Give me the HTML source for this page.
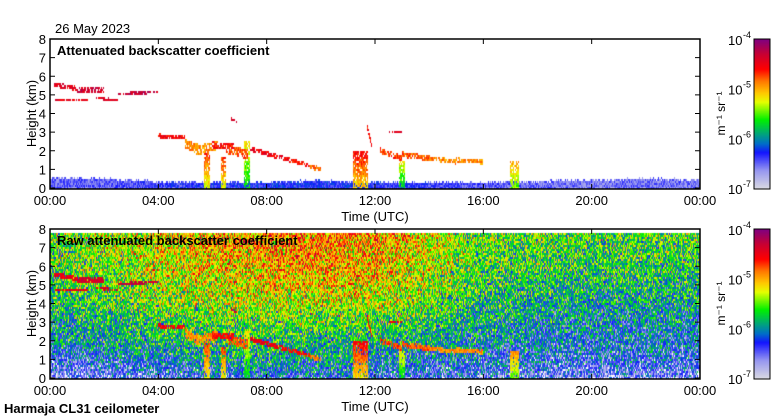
<!DOCTYPE html>
<html><head><meta charset="utf-8">
<style>
html,body{margin:0;padding:0;background:#fff;}
#wrap{position:relative;width:780px;height:420px;overflow:hidden;font-family:"Liberation Sans",sans-serif;}
canvas{position:absolute;left:0;top:0;}
svg{position:absolute;left:0;top:0;}
</style></head>
<body>
<div id="wrap">
<canvas id="cv" width="780" height="420"></canvas>
<svg id="sv" width="780" height="420"></svg>
</div>
<script>
// ---- data ----
const gridHours = [0,2,4,6,8,10,12,14,16,18,20,22,24];
const gridHeights = [0,1,2,3,4,5,6,7,8];
// raw background intensity (0..1 = 1e-7..1e-4 log scale), rows by height
const rawGrid = [
 [.12,.14,.17,.21,.24,.24,.22,.19,.17,.15,.14,.13,.12],
 [.22,.24,.28,.33,.35,.33,.29,.27,.25,.23,.22,.22,.22],
 [.31,.34,.39,.44,.42,.40,.40,.36,.31,.28,.27,.27,.27],
 [.36,.40,.45,.48,.48,.47,.47,.42,.36,.32,.31,.31,.31],
 [.40,.45,.50,.54,.55,.56,.56,.49,.40,.36,.35,.35,.35],
 [.43,.49,.54,.59,.62,.64,.62,.54,.44,.40,.39,.39,.40],
 [.46,.51,.57,.62,.66,.68,.66,.56,.47,.44,.43,.43,.44],
 [.48,.53,.59,.65,.69,.71,.69,.58,.49,.47,.46,.46,.47],
 [.49,.54,.60,.66,.70,.72,.70,.59,.50,.48,.47,.47,.48]
];
// boundary layer top (km) shown in top panel
const blTop = [0.55,0.5,0.35,0.3,0.3,0.4,0.3,0.3,0.3,0.35,0.45,0.5,0.45];
const blVal = [0.16,0.17,0.2,0.22,0.23,0.23,0.22,0.2,0.18,0.16,0.15,0.15,0.15];
// cloud segments: start hour, end hour, start height, end height, thickness km, intensity
const cloudStart = [0.15,0.2,1.0,1.7,2.5,4.0,5.0,5.4,6.0,6.5,7.4,8.6,9.6,11.7,12.5,12.2,13.0,14.0,15.0,6.7];
const cloudEnd   = [1.4,1.4,2.0,2.5,4.0,5.0,5.5,6.2,6.8,7.3,8.6,9.6,10.0,11.9,13.0,13.0,14.0,15.0,16.0,6.9];
const cloudH0    = [5.55,4.7,5.3,4.85,5.05,2.8,2.35,2.0,2.3,2.1,2.1,1.6,1.15,3.4,3.0,2.0,1.8,1.6,1.5,3.7];
const cloudH1    = [5.25,4.7,5.25,4.7,5.15,2.7,2.1,2.3,2.2,1.8,1.6,1.2,1.0,2.2,3.0,1.6,1.6,1.4,1.4,3.5];
const cloudThk   = [0.25,0.12,0.3,0.15,0.15,0.22,0.5,0.5,0.35,0.5,0.25,0.22,0.25,0.3,0.15,0.3,0.3,0.25,0.25,0.15];
const cloudVal   = [0.84,0.84,0.88,0.86,0.9,0.82,0.7,0.7,0.8,0.74,0.84,0.8,0.72,0.8,0.85,0.76,0.74,0.7,0.7,0.88];
// precipitation / fall streak columns: start hour, end hour, top height km, intensity
const colStart = [7.15,11.2,12.9,17.0,5.7,6.3];
const colEnd   = [7.4,11.75,13.1,17.3,5.9,6.5];
const colTop   = [2.5,2.0,1.5,1.5,1.9,1.7];
const colVal   = [0.42,0.62,0.42,0.5,0.58,0.58];
const xTickLabels = ["00:00","04:00","08:00","12:00","16:00","20:00","00:00"];
const yTickLabels = ["0","1","2","3","4","5","6","7","8"];
const cbarExp = ["-4","-5","-6","-7"];

// ---- layout ----
const X0=50,X1=700;
const panels=[{top:39,bot:188,raw:false,title:"Attenuated backscatter coefficient"},
              {top:229,bot:378,raw:true,title:"Raw attenuated backscatter coefficient"}];
const xs=h=>X0+(X1-X0)*h/24;
function ys(p,km){return p.bot-(p.bot-p.top)*km/8;}

const stops=[[0,[216,216,226]],[0.12,[150,150,240]],[0.24,[20,20,255]],[0.3,[0,110,200]],[0.36,[0,160,130]],[0.46,[0,240,0]],[0.58,[230,255,0]],[0.64,[255,200,0]],[0.72,[255,120,0]],[0.8,[255,0,0]],[0.9,[200,0,50]],[1,[128,0,128]]];
function cmap(t){t=Math.max(0,Math.min(1,t));for(let i=1;i<stops.length;i++){if(t<=stops[i][0]){const a=stops[i-1],b=stops[i],f=(t-a[0])/(b[0]-a[0]);return `rgb(${a[1].map((v,k)=>Math.round(v+(b[1][k]-v)*f)).join(',')})`;}}return 'rgb(128,0,128)';}
function hash(i,j,s){let n=i*374761393+j*668265263+s*982451653;n=(n^(n>>>13))*1274126177;n=n^(n>>>16);return ((n>>>0)%10000)/10000;}
function interp(arr,h){const k=Math.min(arr.length-2,Math.floor(h/2));const f=(h-gridHours[k])/2;return arr[k]*(1-f)+arr[k+1]*f;}
function rawAt(h,km){const r=Math.min(7,Math.floor(km));const f=km-r;return interp(rawGrid[r],h)*(1-f)+interp(rawGrid[r+1],h)*f;}
function cloudAt(h,km){let best=-1;
 for(let c=0;c<cloudStart.length;c++){if(h>=cloudStart[c]&&h<=cloudEnd[c]){const f=(h-cloudStart[c])/(cloudEnd[c]-cloudStart[c]);const hc=cloudH0[c]+(cloudH1[c]-cloudH0[c])*f;if(Math.abs(km-hc)<cloudThk[c]/2)best=Math.max(best,cloudVal[c]);}}
 for(let c=0;c<colStart.length;c++){if(h>=colStart[c]&&h<=colEnd[c]&&km<=colTop[c])best=Math.max(best,colVal[c]+(km/colTop[c])*0.2);}
 return best;}

const cv=document.getElementById('cv');const ctx=cv.getContext('2d');
const CW=1,CH=2;
panels.forEach((p,pi)=>{
 const maxKm=p.raw?7.75:8;
 for(let x=X0;x<X1;x+=CW){const h=(x-X0+0.5)/(X1-X0)*24;
  for(let y=p.top;y<p.bot;y+=CH){const km=(p.bot-y-1)/(p.bot-p.top)*8;if(km>maxKm)continue;
   const n=hash(x,y,pi)-0.5;const n2=hash(x,y,pi+3)-0.5;
   let t=-1;const cl=cloudAt(h,km);
   if(p.raw){t=rawAt(h,km)+(n+n2)*0.3; if(cl>0&&hash(x,y,7)<0.85)t=cl+n*0.1;}
   else{ if(km<interp(blTop,h)+n*0.15)t=interp(blVal,h)+n2*0.14; if(cl>0&&hash(x,y,9)<0.8)t=cl+n*0.12; }
   if(t<0)continue;
   ctx.fillStyle=cmap(t);ctx.fillRect(x,y,CW,CH);}}
 // colorbar
 for(let y=p.top;y<p.bot+1;y++){ctx.fillStyle=cmap((p.bot-y)/(p.bot-p.top));ctx.fillRect(754,y,16,1);}
});

const sv=document.getElementById('sv');const NS='http://www.w3.org/2000/svg';
function el(tag,attrs,txt){const e=document.createElementNS(NS,tag);for(const k in attrs)e.setAttribute(k,attrs[k]);if(txt!==undefined)e.textContent=txt;sv.appendChild(e);return e;}
let e;
e=el('text',{x:55,y:33,'font-size':13},'26 May 2023');


e=el('text',{x:4,y:413,'font-size':13,'font-weight':'bold'},'Harmaja CL31 ceilometer');


panels.forEach((p,pi)=>{
 e=el('rect',{x:X0,y:p.top,width:X1-X0,height:p.bot-p.top+1,fill:'none',stroke:'#000','stroke-width':1.5});
 
 
 e=el('text',{x:57,y:p.top+16,'font-size':13,'font-weight':'bold'},p.title);
 
 
 xTickLabels.forEach((l,i)=>{const x=xs(i*4);
  el('line',{x1:x,x2:x,y1:p.top,y2:p.top+5,stroke:'#000'});el('line',{x1:x,x2:x,y1:p.bot+1,y2:p.bot-4,stroke:'#000'});
  e=el('text',{x:x,y:p.bot+17,'font-size':13,'text-anchor':'middle'},l);
  
  });
 yTickLabels.forEach((l,i)=>{const y=ys(p,i);
  el('line',{x1:X0,x2:X0+5,y1:y,y2:y,stroke:'#000'});el('line',{x1:X1,x2:X1-5,y1:y,y2:y,stroke:'#000'});
  e=el('text',{x:46,y:y+5,'font-size':13,'text-anchor':'end'},l);
  
  });
 e=el('text',{x:375,y:p.bot+33,'font-size':13,'text-anchor':'middle'},'Time (UTC)');
 
 
 const cy=(p.top+p.bot)/2;
 e=el('text',{x:0,y:0,'font-size':13,'text-anchor':'middle',transform:`translate(36,${cy}) rotate(-90)`},'Height (km)');
 
 
 e=el('rect',{x:754,y:p.top,width:16,height:p.bot-p.top+1,fill:'none',stroke:'#000'});
 
 
 cbarExp.forEach((x,i)=>{const y=p.top+(p.bot-p.top)*i/3;
  e=el('text',{x:728,y:y+6,'font-size':13},'10');
  
  
  el('text',{x:743,y:y-1,'font-size':9},x);});
 e=el('text',{x:0,y:0,'font-size':12,'text-anchor':'middle',transform:`translate(725,${cy}) rotate(-90)`},'m\u207B\u00B9 sr\u207B\u00B9');
 
 
});
</script>
</body></html>
